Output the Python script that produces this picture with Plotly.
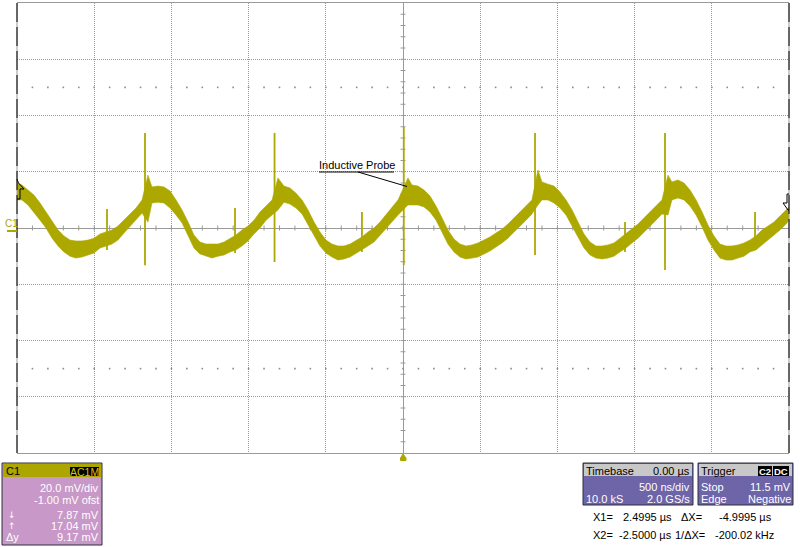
import numpy as np
import plotly.graph_objects as go

W, H = 800, 547
FONT = "Liberation Sans, Arial, sans-serif"
OLIVE = "#ADA800"

time_us = [-2.500, -2.468, -2.429, -2.390, -2.351, -2.312, -2.273, -2.234, -2.196, -2.157,
           -2.118, -2.079, -2.040, -2.001, -1.962, -1.923, -1.885, -1.846, -1.807, -1.768,
           -1.729, -1.690, -1.652, -1.626, -1.587, -1.548, -1.509, -1.470, -1.431, -1.392,
           -1.354, -1.315, -1.276, -1.237, -1.198, -1.159, -1.120, -1.082, -1.043, -1.004,
           -0.965, -0.926, -0.887, -0.848, -0.810, -0.771, -0.732, -0.693, -0.654, -0.615,
           -0.576, -0.538, -0.499, -0.460, -0.421, -0.382, -0.343, -0.304, -0.266, -0.227,
           -0.188, -0.149, -0.110, -0.071, -0.032, 0.032, 0.058, 0.097, 0.136, 0.175,
           0.214, 0.253, 0.291, 0.330, 0.369, 0.408, 0.447, 0.486, 0.525, 0.563,
           0.602, 0.641, 0.680, 0.719, 0.758, 0.797, 0.835, 0.874, 0.900, 0.939,
           0.978, 1.017, 1.056, 1.095, 1.133, 1.172, 1.211, 1.250, 1.289, 1.328,
           1.367, 1.405, 1.444, 1.483, 1.522, 1.561, 1.600, 1.639, 1.677, 1.716,
           1.742, 1.781, 1.820, 1.859, 1.898, 1.937, 1.975, 2.014, 2.053, 2.092,
           2.131, 2.170, 2.209, 2.247, 2.286, 2.325, 2.364, 2.403, 2.442, 2.481, 2.500]

upper_mv = [16.0, 15.3, 13.5, 11.7, 8.9, 5.7, 2.1, -0.7, -2.8, -4.3,
            -4.6, -4.6, -4.3, -3.6, -2.1, -1.4, -0.7, 0.7, 2.8, 5.0,
            7.1, 10.0, 18.8, 14.6, 14.9, 14.6, 13.2, 10.0, 6.4, 2.1,
            -2.5, -5.0, -5.7, -5.7, -5.7, -5.0, -3.6, -2.5, -0.7, 0.7,
            2.8, 5.7, 7.8, 10.0, 17.8, 14.9, 14.2, 12.4, 10.0, 6.4,
            2.1, -1.4, -4.3, -5.7, -6.4, -6.4, -5.7, -4.3, -3.2, -1.4,
            0.0, 2.1, 4.6, 7.1, 10.0, 17.8, 15.3, 14.9, 13.5, 11.4,
            7.8, 3.6, -0.7, -3.9, -5.7, -6.4, -6.0, -5.3, -4.3, -3.2,
            -1.8, -0.4, 1.4, 3.6, 5.7, 7.8, 10.0, 20.6, 16.4, 15.6,
            14.9, 12.8, 10.0, 6.4, 2.1, -2.1, -5.0, -6.4, -6.4, -6.0,
            -5.3, -3.6, -2.1, -0.4, 1.4, 3.6, 5.7, 7.8, 10.0, 18.8,
            16.4, 17.1, 16.0, 13.5, 10.0, 5.7, 1.1, -2.8, -5.7, -6.4,
            -6.4, -6.0, -5.3, -4.3, -2.8, -0.7, 0.7, 2.1, 4.3, 6.4, 7.5]

lower_mv = [10.0, 10.0, 8.2, 5.7, 2.8, 0.0, -3.6, -6.4, -8.5, -10.0,
            -10.7, -10.3, -9.6, -8.9, -7.1, -6.4, -5.7, -4.3, -1.8, 0.7,
            2.8, 5.3, 2.1, 8.9, 9.2, 8.9, 7.1, 4.6, 1.8, -2.8,
            -7.1, -9.2, -10.0, -10.7, -10.0, -9.6, -8.5, -7.8, -6.4, -4.6,
            -2.1, 0.0, 2.8, 4.6, 6.4, 9.2, 8.5, 7.1, 5.0, 1.4,
            -2.8, -6.4, -8.9, -10.3, -11.4, -11.0, -10.3, -9.2, -7.8, -6.4,
            -5.0, -2.8, -0.4, 2.1, 4.6, 8.2, 8.2, 8.2, 7.5, 5.7,
            2.8, -1.4, -5.7, -8.5, -10.3, -11.0, -10.7, -10.3, -9.2, -8.2,
            -6.8, -5.3, -3.6, -1.4, 0.7, 2.8, 5.0, 8.2, 10.0, 10.0,
            8.9, 7.1, 4.6, 1.1, -3.2, -7.1, -9.6, -10.7, -11.0, -10.7,
            -10.0, -8.5, -7.1, -5.3, -3.6, -1.4, 0.7, 2.8, 5.0, 4.6,
            10.0, 10.7, 10.0, 7.8, 4.6, 0.4, -4.3, -7.8, -10.7, -11.4,
            -11.4, -10.7, -10.0, -8.5, -7.8, -6.0, -4.3, -2.5, -0.7, 1.4, 2.8]

spike_time_us = [-1.917, -1.671, -1.088, -0.832, -0.266, 0.005, 0.855, 1.438, 1.697, 2.280]
spike_top_mv = [6.8, 33.8, 7.1, 33.8, 5.7, 35.9, 33.8, 2.1, 33.8, 5.7]
spike_bottom_mv = [-7.8, -13.2, -8.9, -12.1, -8.5, -13.2, -9.6, -8.5, -14.9, -7.1]

# screen geometry (pixels of the plot area)
PX_L, PX_R, PX_T, PX_B = 17, 789, 3, 453
X_RANGE = [-2.5, 2.5]   # 500 ns/div, 10 div
Y_RANGE = [-80, 80]     # 20 mV/div, 8 div


def fx(px):
    return px / W


def fy(py):
    return 1 - py / H


fig = go.Figure()

# minor dot rows at +/- 2.5 div
dot_x = np.round(np.arange(-2.4, 2.45, 0.1), 3)
fig.add_trace(go.Scatter(
    x=np.concatenate([dot_x, dot_x]), y=[50] * len(dot_x) + [-50] * len(dot_x),
    mode="markers", marker=dict(symbol="square", size=1.6, color="#8c8c8c", line=dict(width=0)),
    hoverinfo="skip"))

# tick marks on centre axes
tx, ty = [], []
for v in np.round(np.arange(-2.4, 2.45, 0.1), 3):
    tx += [v, v, None]
    ty += [-0.9, 0.9, None]
for v in range(-76, 80, 4):
    tx += [-0.016, 0.016, None]
    ty += [v, v, None]
fig.add_trace(go.Scatter(x=tx, y=ty, mode="lines", line=dict(color="#999999", width=1),
                         hoverinfo="skip"))

# waveform band (min/max envelope)
band_x = list(time_us) + list(reversed(time_us))
band_y = list(upper_mv) + list(reversed(lower_mv))
fig.add_trace(go.Scatter(x=band_x, y=band_y, mode="lines", fill="toself",
                         fillcolor=OLIVE, line=dict(color=OLIVE, width=0.6),
                         hoverinfo="skip"))

# spikes
sx, sy = [], []
for t, a, b in zip(spike_time_us, spike_top_mv, spike_bottom_mv):
    sx += [t, t, None]
    sy += [a, b, None]
fig.add_trace(go.Scatter(x=sx, y=sy, mode="lines", line=dict(color=OLIVE, width=1.8),
                         hoverinfo="skip"))

shapes = []


def line_px(x0, y0, x1, y1, color, width=1, dash=None, layer="above"):
    d = dict(type="line", xref="paper", yref="paper", x0=fx(x0), y0=fy(y0), x1=fx(x1), y1=fy(y1),
             line=dict(color=color, width=width), layer=layer)
    if dash:
        d["line"]["dash"] = dash
    shapes.append(d)


def rect_px(x0, y0, x1, y1, fill, line_color=None, width=1):
    shapes.append(dict(type="rect", xref="paper", yref="paper", x0=fx(x0), y0=fy(y1), x1=fx(x1), y1=fy(y0),
                       fillcolor=fill, line=dict(color=line_color or fill, width=width if line_color else 0),
                       layer="above"))


def path_px(pts, fill=None, color="black", width=1, closed=True):
    p = "M " + " L ".join(f"{fx(a):.5f},{fy(b):.5f}" for a, b in pts)
    if closed:
        p += " Z"
    shapes.append(dict(type="path", xref="paper", yref="paper", path=p,
                       fillcolor=fill or "rgba(0,0,0,0)", line=dict(color=color, width=width),
                       layer="above"))


# side borders: gray under black dashes
for xb in (PX_L, PX_R):
    line_px(xb, PX_T, xb, PX_B, "#9a9a9a", 1)
    line_px(xb, PX_T, xb, PX_B, "#000000", 1, dash="19px,5px")

# trigger-level markers
path_px([(17, 179), (18.5, 183), (24, 189), (20, 189), (20, 199), (17, 199)], closed=False)
path_px([(789, 194), (787, 194), (787, 203), (783, 203), (788, 210), (789, 210)], closed=False)

# C1 ground marker
rect_px(7, 230, 17, 232, OLIVE)
# trigger position marker
path_px([(403, 454), (400.5, 458), (400.5, 460.5), (406, 460.5), (406, 458)], fill=OLIVE, color=OLIVE)

# label leader
line_px(319, 172, 394, 172, "black", 1)
line_px(358, 172, 407, 186.5, "black", 1)

# ---------- bottom panels ----------
PANEL_LINE = "#2e2e3e"
rect_px(2, 463, 102, 545, "#C898C8", PANEL_LINE)
rect_px(3, 464, 101, 477, "#ADA600")
rect_px(70, 467, 99, 476, "#000000")

for x0, x1 in ((583, 693), (698, 793)):
    rect_px(x0, 463, x1, 505, "#6E64A8", PANEL_LINE)
    rect_px(x0 + 1, 464, x1 - 1, 476, "#C8C8C8")
rect_px(758, 466, 772, 476, "#000000")
rect_px(773, 466, 789, 476, "#000000")

annotations = []


def text_px(s, x, y, anchor="left", color="black", size=11, bold=False, family=FONT):
    if bold:
        s = f"<b>{s}</b>"
    annotations.append(dict(text=s, x=fx(x), y=fy(y), xref="paper", yref="paper",
                            xanchor=anchor, yanchor="middle", showarrow=False, borderpad=0,
                            font=dict(family=family, size=size, color=color)))


text_px("Inductive Probe", 318, 165)
text_px("C1", 4, 223, color=OLIVE, size=10)

# C1 panel
text_px("C1", 5, 471)
text_px("AC1M", 84.5, 471.5, anchor="center", color="#D0C800", size=10.5)
text_px("20.0 mV/div", 100, 487.5, anchor="right", color="white")
text_px("-1.00 mV ofst", 100, 499.5, anchor="right", color="white")
text_px("7.87 mV", 100, 515, anchor="right", color="white")
text_px("17.04 mV", 100, 526, anchor="right", color="white")
text_px("9.17 mV", 100, 536.5, anchor="right", color="white")
text_px("↓", 7, 514.5, color="white", size=9, family="DejaVu Sans")
text_px("↑", 7, 526, color="white", size=9, family="DejaVu Sans")
text_px("Δy", 5, 537, color="white")

# Timebase panel
text_px("Timebase", 585, 470.5)
text_px("0.00 µs", 691, 470.5, anchor="right")
text_px("500 ns/div", 691, 487, anchor="right", color="white")
text_px("10.0 kS", 585, 498.5, color="white")
text_px("2.0 GS/s", 691, 498.5, anchor="right", color="white")

# Trigger panel
text_px("Trigger", 700, 470.5)
text_px("C2", 765, 471.5, anchor="center", color="white", size=9.5, bold=True)
text_px("DC", 781, 471.5, anchor="center", color="white", size=9.5, bold=True)
text_px("Stop", 700, 487, color="white")
text_px("11.5 mV", 792, 487, anchor="right", color="white")
text_px("Edge", 700, 498.5, color="white")
text_px("Negative", 792, 498.5, anchor="right", color="white")

# cursor readouts
text_px("X1=", 592, 517)
text_px("2.4995 µs", 673, 517, anchor="right")
text_px("ΔX=", 680, 517)
text_px("-4.9995 µs", 773, 517, anchor="right")
text_px("X2=", 592, 535)
text_px("-2.5000 µs", 673, 535, anchor="right")
text_px("1/ΔX=", 674, 535)
text_px("-200.02 kHz", 775, 535, anchor="right")

fig.update_layout(
    width=W, height=H, margin=dict(l=0, r=0, t=0, b=0),
    paper_bgcolor="white", plot_bgcolor="white", showlegend=False,
    font=dict(family=FONT, size=11, color="black"),
    xaxis=dict(domain=[fx(PX_L), fx(PX_R)], range=X_RANGE, tick0=0, dtick=0.5,
               showgrid=True, gridcolor="#9a9a9a", gridwidth=1, griddash="1px,1px",
               zeroline=True, zerolinecolor="#9a9a9a", zerolinewidth=1,
               showline=True, linecolor="#9a9a9a", linewidth=1, mirror=True,
               showticklabels=False, ticks="", fixedrange=True),
    yaxis=dict(domain=[fy(PX_B), fy(PX_T)], range=Y_RANGE, tick0=0, dtick=20,
               showgrid=True, gridcolor="#9a9a9a", gridwidth=1, griddash="1px,1px",
               zeroline=True, zerolinecolor="#9a9a9a", zerolinewidth=1,
               showline=False, showticklabels=False, ticks="", fixedrange=True),
    shapes=shapes, annotations=annotations,
)

fig.write_html(
    "out.html",
    config={"displayModeBar": False, "staticPlot": True},
    post_script="document.body.style.margin='0';document.body.style.overflow='hidden';",
)
